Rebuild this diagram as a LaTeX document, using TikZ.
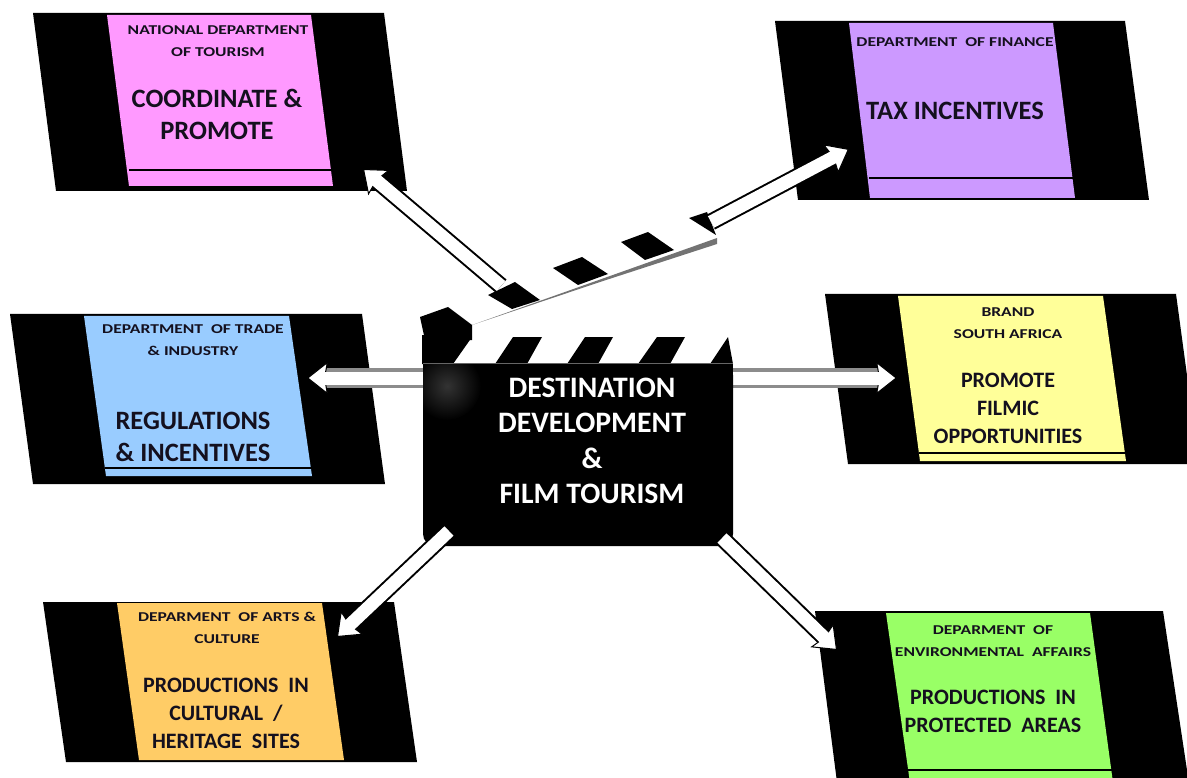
\documentclass[tikz,border=0pt]{standalone}
\usepackage{fontspec}
\setmainfont{Carlito}
\newfontfamily\widefont[FakeStretch=1.3]{Carlito}
\usetikzlibrary{arrows.meta}
\definecolor{pinkcard}{HTML}{FF99FF}
\definecolor{lilaccard}{HTML}{CC99FF}
\definecolor{bluecard}{HTML}{99CCFF}
\definecolor{yellowcard}{HTML}{FFFF99}
\definecolor{orangecard}{HTML}{FFCC66}
\definecolor{greencard}{HTML}{99FF66}
\definecolor{cardtext}{HTML}{14101E}
\tikzset{
    cardback/.style={fill=black},
    rule/.style={draw=black, line width=1.4pt},
    dept/.style={font=\widefont\bfseries\fontsize{13.5}{22}\selectfont, align=center, text=cardtext, inner sep=0pt},
    task/.style={font=\bfseries\fontsize{26.5}{32}\selectfont, align=center, text=cardtext, inner sep=0pt},
    smalltask/.style={font=\bfseries\fontsize{22}{28}\selectfont, align=center, text=cardtext, inner sep=0pt},
    link/.style={line width=17pt, draw=black,
        -{Stealth[length=21pt, width=33pt, inset=3pt, color=black, fill=white, line width=1pt]},
        postaction={draw=white, line width=13pt, arrows=-, shorten >=15pt}},
    greylink/.style={link, line width=20pt, draw=black!45},
}

\begin{document}
\begin{tikzpicture}[x=1pt, y=-1pt]
    \useasboundingbox (0,0) rectangle (1187,778);
    \clip (0,0) rectangle (1187,778);

    % cards
    \fill[cardback] (33,13) -- (384,13) -- (407,191) -- (56,191) -- cycle;
    \fill[pinkcard] (107,15) -- (311,15) -- (333,186) -- (129,186) -- cycle;
    \draw[rule] (129,170) -- (332,170);
    \fill[cardback] (775,21) -- (1125,21) -- (1149,200) -- (798,200) -- cycle;
    \fill[lilaccard] (849,23) -- (1053,23) -- (1075,198) -- (870,198) -- cycle;
    \draw[rule] (869,178) -- (1073,178);
    \fill[cardback] (10,314) -- (362,314) -- (385,484) -- (33,484) -- cycle;
    \fill[bluecard] (84,316) -- (289,316) -- (312,476) -- (106,476) -- cycle;
    \draw[rule] (105,468) -- (311,468);
    \fill[cardback] (825,294) -- (1176,294) -- (1199,464) -- (848,464) -- cycle;
    \fill[yellowcard] (898,296) -- (1103,296) -- (1126,461) -- (920,461) -- cycle;
    \draw[rule] (919,453) -- (1125,453);
    \fill[cardback] (43,602) -- (394,602) -- (417,762) -- (66,762) -- cycle;
    \fill[orangecard] (117,603) -- (322,603) -- (344,760) -- (139,760) -- cycle;
    \fill[cardback] (815,611) -- (1163,611) -- (1190,790) -- (838,790) -- cycle;
    \fill[greencard] (886,613) -- (1090,613) -- (1114,790) -- (911,790) -- cycle;
    \draw[rule] (908,770) -- (1112,770);

    % arm of the clapper
    \fill[black!55] (472,325) -- (717,238) -- (717,244) -- (600,282) -- cycle;
    \fill[black] (420,317) -- (448,307) -- (472,325) -- (472,340) -- (425,340) -- cycle;
    \fill[black] (488,295) -- (515,282) -- (540,300) -- (512,309) -- cycle;
    \fill[black] (553,268) -- (582,257) -- (608,274) -- (578,285) -- cycle;
    \fill[black] (621,242) -- (648,232) -- (674,250) -- (645,260) -- cycle;
    \fill[black] (689,218) -- (707,212) -- (716,235) -- cycle;

    % striped band
    \fill[black] (422,335) -- (472,337) -- (453,364) -- (422,364) -- cycle;
    \fill[black] (513,337) -- (542,337) -- (527,364) -- (495,364) -- cycle;
    \fill[black] (585,337) -- (613,337) -- (598,364) -- (567,364) -- cycle;
    \fill[black] (657,337) -- (685,337) -- (670,364) -- (638,364) -- cycle;
    \fill[black] (728,337) -- (710,364) -- (733,364) -- cycle;

    \coordinate (armleft) at (501,286);
    \coordinate (armright) at (711,222);
    \coordinate (bodyleft) at (430,378);
    \coordinate (bodyright) at (726,378);
    \coordinate (bodylow) at (449,531);
    \coordinate (bodyhigh) at (722,538);
    \coordinate (tourism) at (363,169);
    \coordinate (finance) at (849,149);
    \coordinate (trade) at (307,378);
    \coordinate (brand) at (897,378);
    \coordinate (arts) at (337,637);
    \coordinate (environment) at (837,650);

    \draw[link] (armleft) -- (tourism);
    \draw[link] (armright) -- (finance);
    \draw[greylink] (bodyleft) -- (trade);
    \draw[greylink] (bodyright) -- (brand);

    % body of the clapper
    \node[fill=black, rounded corners=12pt, minimum width=310pt, minimum height=183pt, inner sep=0pt] (clap) at (578,454.5) {};
    \fill[black] (423,363) rectangle (733,400);
    \begin{scope}
      \clip (423,364) rectangle (733,440);
      \shade[inner color=black!80, outer color=black] (447,386) circle (34);
    \end{scope}
    \draw[black!60, line width=1pt] (423,363.5) -- (733,363.5);
    \node[font=\bfseries\fontsize{29.7}{35.5}\selectfont, align=center, text=white, inner sep=0pt] (cliptext) at (592,441) {DESTINATION\\DEVELOPMENT\\\&\\FILM TOURISM};

    \draw[link] (bodylow) -- (arts);
    \draw[link] (bodyhigh) -- (environment);

    % card texts
    \node[dept] (tourismhead) at (218,41) {NATIONAL  DEPARTMENT\\OF TOURISM};
    \node[task] (tourismtask) at (217,114) {COORDINATE \&\\PROMOTE};
    \node[dept] (financehead) at (955,42) {DEPARTMENT \ OF FINANCE};
    \node[task] (financetask) at (955,111) {TAX INCENTIVES};
    \node[dept] (tradehead) at (193,340) {DEPARTMENT \ OF TRADE\\\& INDUSTRY};
    \node[task] (tradetask) at (193,437) {REGULATIONS\\\& INCENTIVES};
    \node[dept] (brandhead) at (1008,323) {BRAND\\SOUTH AFRICA};
    \node[smalltask] (brandtask) at (1008,408) {PROMOTE\\FILMIC\\OPPORTUNITIES};
    \node[dept] (artshead) at (227,628) {DEPARMENT \ OF ARTS \&\\CULTURE};
    \node[smalltask] (artstask) at (226,713) {PRODUCTIONS \ IN\\CULTURAL \ /\\HERITAGE \ SITES};
    \node[dept] (envhead) at (993,641) {DEPARMENT \ OF\\ENVIRONMENTAL \ AFFAIRS};
    \node[smalltask] (envtask) at (993,711) {PRODUCTIONS \ IN\\PROTECTED \ AREAS};
\end{tikzpicture}
\end{document}
